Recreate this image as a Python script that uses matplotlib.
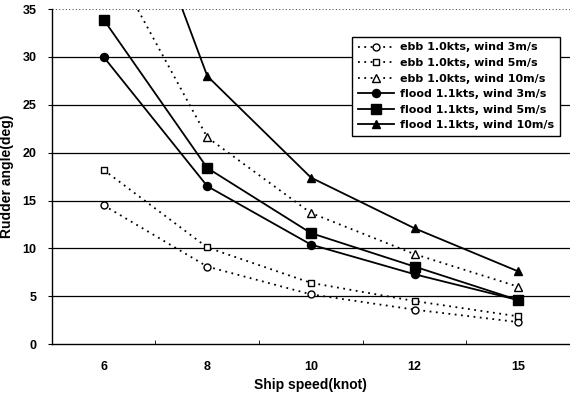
import numpy as np
import matplotlib.pyplot as plt
from matplotlib.ticker import FixedLocator

plt.rcParams["font.family"] = "Liberation Sans"
plt.rcParams["font.weight"] = "bold"

speeds = ["6", "8", "10", "12", "15"]

ebb_3 = [14.5, 8.1, 5.2, 3.6, 2.3]
ebb_5 = [18.2, 10.1, 6.4, 4.5, 2.9]
ebb_10 = [41.5, 21.6, 13.7, 9.4, 6.0]
flood_3 = [30.0, 16.5, 10.4, 7.3, 4.6]
flood_5 = [33.9, 18.4, 11.6, 8.1, 4.6]
flood_10 = [57.0, 28.0, 17.4, 12.1, 7.6]

labels = [
    "ebb 1.0kts, wind 3m/s",
    "ebb 1.0kts, wind 5m/s",
    "ebb 1.0kts, wind 10m/s",
    "flood 1.1kts, wind 3m/s",
    "flood 1.1kts, wind 5m/s",
    "flood 1.1kts, wind 10m/s",
]

x = np.arange(len(speeds))

fig = plt.figure(figsize=(5.7, 3.96), dpi=100)
ax = fig.add_axes([0.091, 0.131, 0.909, 0.846])

for yv in range(5, 35, 5):
    ax.axhline(yv, color="black", lw=0.9, zorder=1)
ax.axhline(35, color="#555555", lw=0.8, ls=(0, (1, 2)), zorder=1)

dots = (0, (1, 2.5))
ax.plot(x, ebb_3, ls=dots, color="black", lw=1.3, marker="o",
        mfc="white", mec="black", ms=5, label=labels[0], zorder=3)
ax.plot(x, ebb_5, ls=dots, color="black", lw=1.3, marker="s",
        mfc="white", mec="black", ms=5, label=labels[1], zorder=3)
ax.plot(x, ebb_10, ls=dots, color="black", lw=1.3, marker="^",
        mfc="white", mec="black", ms=5.5, label=labels[2], zorder=3)
ax.plot(x, flood_3, ls="-", color="black", lw=1.3, marker="o",
        ms=5.8, label=labels[3], zorder=5)
ax.plot(x, flood_5, ls="-", color="black", lw=1.3, marker="s",
        ms=6.5, label=labels[4], zorder=4)
ax.plot(x, flood_10, ls="-", color="black", lw=1.3, marker="^",
        ms=6, label=labels[5], zorder=3)

ax.set_xlim(-0.5, 4.5)
ax.set_ylim(0, 35)
ax.set_yticks(range(0, 40, 5))
ax.set_xticks(x)
ax.set_xticklabels(speeds)
ax.xaxis.set_minor_locator(FixedLocator(np.arange(0.5, 4.5, 1.0)))
ax.tick_params(axis="x", which="major", length=0, pad=12, labelsize=9)
ax.tick_params(axis="x", which="minor", length=3, direction="in")
ax.tick_params(axis="y", length=3, direction="out", labelsize=9, pad=8)

for side in ["top", "right"]:
    ax.spines[side].set_visible(False)
ax.spines["left"].set_linewidth(1.0)
ax.spines["bottom"].set_linewidth(1.0)

ax.set_xlabel("Ship speed(knot)", fontsize=10, fontweight="bold", labelpad=4)
ax.set_ylabel("Rudder angle(deg)", fontsize=10, fontweight="bold", labelpad=6)

leg = ax.legend(loc="upper right", bbox_to_anchor=(0.98, 0.917),
                prop={"family": "DejaVu Sans", "weight": "bold", "size": 8},
                frameon=True, fancybox=False,
                edgecolor="black", framealpha=1, handlelength=3.3,
                borderpad=0.5, labelspacing=0.5, handletextpad=0.5,
                borderaxespad=0)
leg.get_frame().set_linewidth(1.0)

fig.savefig("out.png", dpi=100)
